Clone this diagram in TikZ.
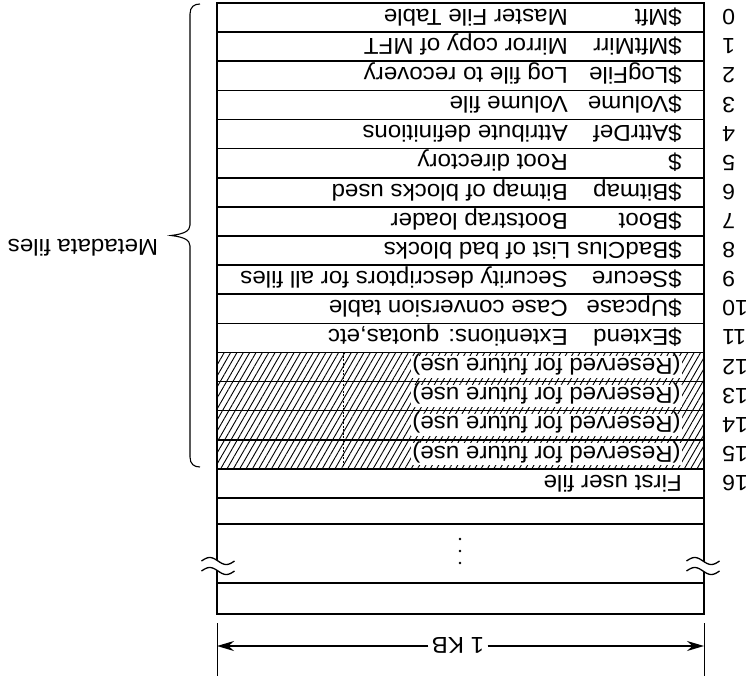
\documentclass[tikz,border=0pt]{standalone}
\usepackage{fontspec}
\setmainfont{Liberation Sans}
\usetikzlibrary{arrows.meta,patterns.meta}

\begin{document}
\begin{tikzpicture}[x=1pt, y=-1pt,
    flip/.style={rotate=180, xscale=1.05, inner sep=0pt, font=\fontsize{23}{27}\selectfont, text height=16.5pt, text depth=0pt},
    numlabel/.style={flip, font=\fontsize{22}{26}\selectfont, text height=15.8pt, anchor=east},
    rowline/.style={line width=1.6pt},
    >={Stealth[length=17pt, width=10pt]}]
  \useasboundingbox (0,0) rectangle (752,686);
  % reserved slots
  \fill[pattern={Lines[angle=60, distance=5.5pt, line width=0.9pt]}] (217,352.44) rectangle (704,468.92);
  \foreach \i in {12,...,15}
    \node[flip, anchor=west, fill=white, inner xsep=1pt, minimum height=22pt] (res\i) at (682,{3+29.12*(\i+0.5)}) {(Reserved for future use)};
  \draw[line width=0.6pt, dash pattern=on 2pt off 1.5pt] (343,352.44) -- (343,468.92);
  % file records
  \foreach \i/\nm/\ds in {0/\$Mft/Master File Table, 1/\$MftMirr/Mirror copy of MFT, 2/\$LogFile/Log file to recovery, 3/\$Volume/Volume file, 4/\$AttrDef/Attribute definitions, 5/\$/Root directory, 6/\$Bitmap/Bitmap of blocks used, 7/\$Boot/Bootstrap loader, 8/\$BadClus List of bad blocks/, 9/\$Secure/Security descriptors for all files, 10/\$Upcase/Case conversion table, 11/\$Extend/Extentions: quotas{,}etc, 16/First user file/}
  {
    \node[flip, anchor=west] (name\i) at (682,{3+29.12*(\i+0.5)}) {\nm};
    \node[flip, anchor=west] (desc\i) at (568,{3+29.12*(\i+0.5)}) {\ds};
  }
  \foreach \i in {0,...,16}
    \node[numlabel] (num\i) at (722,{3+29.12*(\i+0.5)}) {\i};
  % table
  \foreach \i in {1,...,17}
    \draw[rowline] (217,{3+29.12*\i}) -- (704,{3+29.12*\i});
  \draw[rowline] (217,524) -- (704,524);
  \draw[rowline] (217,583) -- (704,583);
  \draw[rowline] (217,3) rectangle (704,614);
  \foreach \dy in {539,551,563}
    \fill (460,\dy) circle (1.4pt);
  \foreach \bx in {218,703} {
    \fill[white] plot[domain=0:33, samples=31, variable=\t] ({\bx-16.5+\t},{561-3.5*sin(\t*360/33)})
      -- plot[domain=33:0, samples=31, variable=\t] ({\bx-16.5+\t},{571-3.5*sin(\t*360/33)}) -- cycle;
    \draw[line width=1.3pt] plot[domain=0:33, samples=31, variable=\t] ({\bx-16.5+\t},{561-3.5*sin(\t*360/33)});
    \draw[line width=1.3pt] plot[domain=0:33, samples=31, variable=\t] ({\bx-16.5+\t},{571-3.5*sin(\t*360/33)});
  }
  % brace
  \draw[line width=1.1pt] (200,4) .. controls (194,4) and (190,7) .. (190,14) -- (190,225)
    .. controls (190,231) and (184,234) .. (171,235.5) .. controls (184,237) and (190,240) .. (190,246)
    -- (190,457) .. controls (190,464) and (194,467) .. (200,467);
  \node[flip] (meta) at (83,248) {Metadata files};
  % width
  \draw[line width=0.7pt] (217,623) -- (217,676);
  \draw[line width=0.7pt] (704,623) -- (704,676);
  \coordinate (kbL) at (217,646);
  \coordinate (kbR) at (704,646);
  \node[flip, inner xsep=3pt] (kb) at (458,646) {1 KB};
  \draw[->, line width=1.6pt] (kb) -- (kbL);
  \draw[->, line width=1.6pt] (kb) -- (kbR);
\end{tikzpicture}
\end{document}
